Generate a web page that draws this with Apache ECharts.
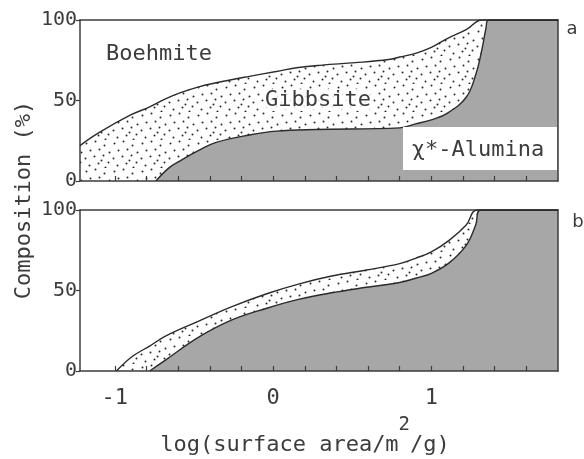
<!DOCTYPE html>
<html>
<head>
<meta charset="utf-8">
<script src="https://cdn.jsdelivr.net/npm/echarts@6/dist/echarts.min.js"></script>
<style>
  html, body { margin: 0; padding: 0; background: #fff; }
  #chart { width: 584px; height: 459px; }
</style>
</head>
<body>
<div id="chart"></div>
<script>
// Panel a: boundary Boehmite / Gibbsite (cumulative %)
const aUpperX = [-1.22, -1.1, -0.9, -0.78, -0.68, -0.58, -0.47, -0.36, -0.15, 0.02, 0.16, 0.31, 0.52, 0.73, 0.8, 0.9, 1.0, 1.1, 1.22, 1.32, 1.8];
const aUpperY = [22, 30, 41, 46, 51, 55, 58.5, 61, 65, 68, 70.5, 72, 73.5, 75.5, 77, 79.3, 83, 88.5, 94, 100, 100];
// Panel a: boundary Gibbsite / chi*-Alumina
const aLowerX = [-0.74, -0.66, -0.58, -0.47, -0.36, -0.15, 0.02, 0.27, 0.8, 0.9, 1.0, 1.1, 1.22, 1.28, 1.32, 1.345, 1.36, 1.8];
const aLowerY = [0, 8, 13, 19, 24, 28.6, 31, 32, 33, 35.5, 38, 42, 52, 66, 82, 95, 100, 100];
// Panel b: boundary Boehmite / Gibbsite
const bUpperX = [-0.99, -0.89, -0.78, -0.68, -0.47, -0.26, -0.04, 0.16, 0.37, 0.59, 0.8, 0.9, 1.0, 1.11, 1.22, 1.29, 1.8];
const bUpperY = [0, 9, 15.5, 21.7, 31, 40, 48, 54, 59, 62.7, 66.7, 70, 74, 81, 90.7, 100, 100];
// Panel b: boundary Gibbsite / chi*-Alumina
const bLowerX = [-0.78, -0.68, -0.47, -0.26, -0.04, 0.16, 0.37, 0.59, 0.8, 0.9, 1.0, 1.11, 1.22, 1.28, 1.31, 1.8];
const bLowerY = [0, 6.8, 21, 31.7, 39, 44.5, 48.6, 52, 55, 57.6, 60.7, 67, 78, 90.7, 100, 100];

// Axis ticks and labels
const xTickValues = [-1, -0.8, -0.6, -0.4, -0.2, 0, 0.2, 0.4, 0.6, 0.8, 1, 1.2, 1.4, 1.6];
const xLabelValues = [-1, 0, 1];
const yTickValues = [0, 50, 100];

const MONO = '"DejaVu Sans Mono", monospace';
const INK = '#3c3c3c';
const GRAY = '#a7a7a7';

// Stippled fill used for the Gibbsite band
function stipple() {
  const c = document.createElement('canvas');
  c.width = 28; c.height = 28;
  const g = c.getContext('2d');
  g.fillStyle = '#fff';
  g.fillRect(0, 0, 28, 28);
  g.fillStyle = '#2a2a2a';
  const dots = [[2,3],[11,1],[20,5],[25,12],[6,10],[15,9],[1,18],[10,16],[19,15],[24,22],[5,25],[14,23],[21,27],[17,20]];
  dots.forEach(([x, y]) => { g.beginPath(); g.arc(x + 0.5, y + 0.5, 1.0, 0, Math.PI * 2); g.fill(); });
  return c;
}
const dotPattern = { image: stipple(), repeat: 'repeat' };

function pairs(xs, ys) { return xs.map((x, i) => [x, ys[i]]); }

const chart = echarts.init(document.getElementById('chart'), null, { renderer: 'canvas' });

const grids = [
  { left: 80, right: 26, top: 20, height: 161 },
  { left: 80, right: 26, top: 210, height: 161 }
];

function bottomAxis(idx, withLabels) {
  return {
    type: 'value', gridIndex: idx, position: 'bottom', min: -1.22, max: 1.8, z: 3,
    splitLine: { show: false },
    axisLine: { show: true, onZero: false, lineStyle: { color: INK, width: 1.5 } },
    axisTick: { show: true, inside: true, length: 5, customValues: xTickValues, lineStyle: { color: INK, width: 1.2 } },
    axisLabel: {
      show: withLabels, customValues: xLabelValues, margin: 16,
      fontFamily: MONO, fontSize: 22, color: INK
    }
  };
}
function topAxis(idx) {
  return {
    type: 'value', gridIndex: idx, position: 'top', min: -1.22, max: 1.8, z: 3,
    splitLine: { show: false }, axisTick: { show: false }, axisLabel: { show: false },
    axisLine: { show: true, onZero: false, lineStyle: { color: INK, width: 1.5 } }
  };
}
function leftAxis(idx) {
  return {
    type: 'value', gridIndex: idx, position: 'left', min: 0, max: 100, z: 3,
    splitLine: { show: false },
    axisLine: { show: true, onZero: false, lineStyle: { color: INK, width: 1.5 } },
    axisTick: { show: true, length: 4, customValues: yTickValues, lineStyle: { color: INK, width: 1.2 } },
    axisLabel: { customValues: yTickValues, margin: 3, fontFamily: MONO, fontSize: 20, color: INK }
  };
}
function rightAxis(idx) {
  return {
    type: 'value', gridIndex: idx, position: 'right', min: 0, max: 100, z: 3,
    splitLine: { show: false }, axisTick: { show: false }, axisLabel: { show: false },
    axisLine: { show: true, onZero: false, lineStyle: { color: INK, width: 1.5 } }
  };
}

function band(name, xi, yi, data, fill) {
  return {
    name, type: 'line', xAxisIndex: xi, yAxisIndex: yi, data,
    smooth: 0.4, showSymbol: false, symbol: 'none', clip: true,
    lineStyle: { color: '#2b2b2b', width: 1.4 },
    areaStyle: { color: fill, opacity: 1, origin: 'start' },
    silent: true, animation: false
  };
}

chart.setOption({
  backgroundColor: '#fff',
  animation: false,
  grid: grids,
  xAxis: [bottomAxis(0, false), topAxis(0), bottomAxis(1, true), topAxis(1)],
  yAxis: [leftAxis(0), rightAxis(0), leftAxis(1), rightAxis(1)],
  series: [
    band('Gibbsite a', 0, 0, pairs(aUpperX, aUpperY), dotPattern),
    band('Alumina a', 0, 0, pairs(aLowerX, aLowerY), GRAY),
    band('Gibbsite b', 2, 2, pairs(bUpperX, bUpperY), dotPattern),
    band('Alumina b', 2, 2, pairs(bLowerX, bLowerY), GRAY)
  ],
  graphic: [
    { type: 'text', left: 106, top: 43, z: 10,
      style: { text: 'Boehmite', font: '22px ' + MONO, fill: INK } },
    { type: 'rect', shape: { x: 403, y: 127, width: 154, height: 43 }, z: 10,
      style: { fill: '#fff' } },
    { type: 'text', x: 478, y: 150, z: 11,
      style: { text: 'χ*-Alumina', font: '22px ' + MONO, fill: INK, align: 'center', verticalAlign: 'middle' } },
    { type: 'text', x: 318, y: 100, z: 10,
      style: { text: 'Gibbsite', font: '22px ' + MONO, fill: INK, align: 'center', verticalAlign: 'middle',
               backgroundColor: 'rgba(255,255,255,0.85)', padding: [0, 1] } },
    { type: 'text', x: 572, y: 29, z: 10,
      style: { text: 'a', font: '18px "DejaVu Sans", sans-serif', fill: INK, align: 'center', verticalAlign: 'middle' } },
    { type: 'text', x: 578, y: 222, z: 10,
      style: { text: 'b', font: '18px "DejaVu Sans", sans-serif', fill: INK, align: 'center', verticalAlign: 'middle' } },
    { type: 'text', x: 24, y: 200, rotation: Math.PI / 2, z: 10,
      style: { text: 'Composition (%)', font: '22px ' + MONO, fill: INK, align: 'center', verticalAlign: 'middle' } },
    { type: 'text', x: 305, y: 445, z: 10,
      style: {
        text: '{t|log(surface area/m}{s|2}{t|/g)}', align: 'center', verticalAlign: 'middle', fill: INK,
        rich: {
          t: { fontFamily: MONO, fontSize: 22, fill: INK },
          s: { fontFamily: MONO, fontSize: 19, fill: INK, padding: [0, 0, 40, 0] }
        }
      } }
  ]
});
</script>
</body>
</html>
